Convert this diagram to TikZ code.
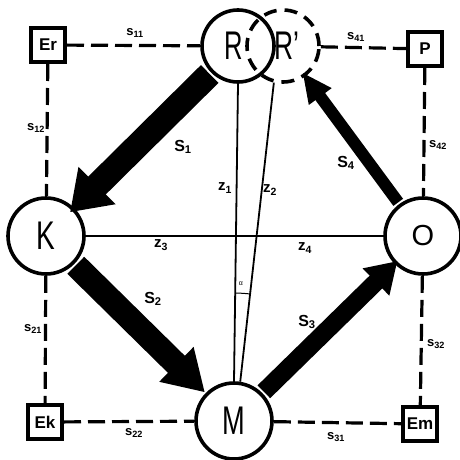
\documentclass[tikz,border=0pt]{standalone}
\usepackage{fontspec}
\usepackage{graphicx}
\setmainfont{Liberation Sans}
\usetikzlibrary{arrows.meta}
\begin{document}
\begin{tikzpicture}[x=1pt,y=-1pt,
  circ/.style={circle,draw,line width=3.6pt,minimum size=#1,inner sep=0pt,font=\fontsize{40}{40}\selectfont},
  circ/.default=76pt,
  boxn/.style={draw,line width=4pt,minimum size=34pt,inner sep=0pt,font=\bfseries\fontsize{17}{17}\selectfont},
  dline/.style={line width=3.2pt,dash pattern=on 17pt off 7pt},
  thinl/.style={line width=1.8pt},
  slab/.style={font=\bfseries\fontsize{13}{13}\selectfont,inner sep=1pt},
  Slab/.style={font=\bfseries\fontsize{16}{16}\selectfont,inner sep=1pt},
  zlab/.style={font=\bfseries\fontsize{15}{15}\selectfont,inner sep=1pt},
  bigarrow/.style n args={4}{line width=#1,-{Triangle[length=#2,width=#3]},shorten >=#4,shorten <=2pt}
]
\useasboundingbox (0,0) rectangle (459,460);

% main circles
\node[circ=72pt] (R) at (238,46) {\hspace*{-8pt}\scalebox{0.64}[1]{R}};
\node[circ=72pt,dash pattern=on 13pt off 8pt] (Rp) at (283,46) {\hspace*{8pt}\scalebox{0.66}[1]{R'}};
\node[circ] (K) at (46,236) {\scalebox{0.7}[1]{K}};
\node[circ] (O) at (423,236) {\fontsize{29}{29}\selectfont O};
\node[circ] (M) at (234,421) {\scalebox{0.68}[1]{M}};

% boxes
\node[boxn] (Er) at (48,45) {Er};
\node[boxn] (P) at (425,49) {P};
\node[boxn] (Ek) at (45,422) {Ek};
\node[boxn] (Em) at (420,424) {Em};

% dashed connectors
\draw[dline] (Er) -- (R);
\draw[dline] (Er) -- (K);
\draw[dline] (Rp) -- (P);
\draw[dline] (P) -- (O);
\draw[dline] (K) -- (Ek);
\draw[dline] (Ek) -- (M);
\draw[dline] (M) -- (Em);
\draw[dline] (O) -- (Em);

% thin lines
\draw[thinl] (R.south) -- (M.north);
\draw[thinl] (Rp.-104) -- (M.81);
\draw[thinl] (K) -- (O);

% angle marker
\coordinate (ac) at (233,445);
\draw[line width=1pt] (ac) ++(-89.2:152) arc[start angle=-89.2, end angle=-83.7, radius=152];
\node[font=\fontsize{7}{7}\selectfont,inner sep=0pt] (alpha) at (241,284) {α};

% big arrows
\draw[bigarrow={25pt}{38pt}{50pt}{-6pt}] (R) -- (K);
\draw[bigarrow={24pt}{40pt}{46pt}{1pt}] (K) -- (M);
\draw[bigarrow={18pt}{30pt}{36pt}{-4pt}] (M) -- (O);
\draw[bigarrow={12pt}{30pt}{26pt}{-5pt}] (O) -- (Rp);

% labels
\node[slab] (l11) at (135,33) {s\textsubscript{11}};
\node[slab] (l12) at (36,128) {s\textsubscript{12}};
\node[slab] (l41) at (356,37) {s\textsubscript{41}};
\node[slab] (l42) at (438,145) {s\textsubscript{42}};
\node[slab] (l21) at (33,329) {s\textsubscript{21}};
\node[slab] (l22) at (134,433) {s\textsubscript{22}};
\node[slab] (l31) at (336,437) {s\textsubscript{31}};
\node[slab] (l32) at (436,344) {s\textsubscript{32}};

\node[Slab] (S1) at (183,147) {S\textsubscript{1}};
\node[Slab] (S2) at (153,299) {S\textsubscript{2}};
\node[Slab] (S3) at (307,322) {S\textsubscript{3}};
\node[Slab] (S4) at (346,163) {S\textsubscript{4}};

\node[zlab] (z1) at (225,188) {z\textsubscript{1}};
\node[zlab] (z2) at (270,190) {z\textsubscript{2}};
\node[zlab] (z3) at (161,245) {z\textsubscript{3}};
\node[zlab] (z4) at (305,248) {z\textsubscript{4}};
\end{tikzpicture}
\end{document}
